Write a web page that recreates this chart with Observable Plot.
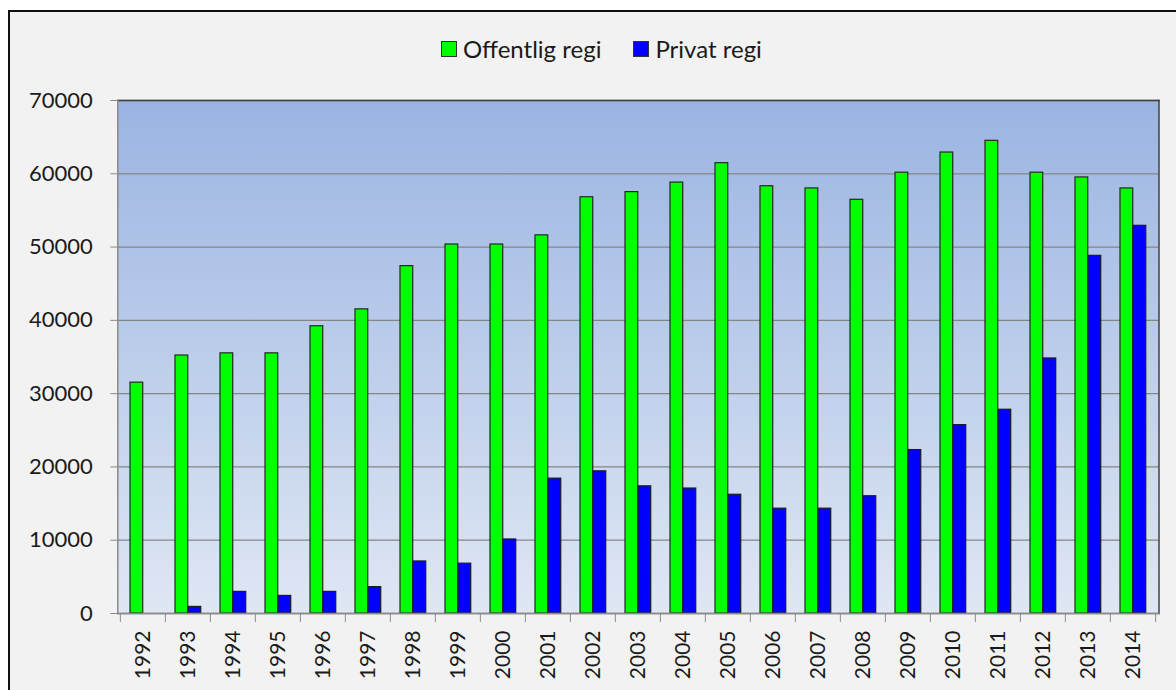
<!DOCTYPE html>
<html><head><meta charset="utf-8">
<script src="https://cdn.jsdelivr.net/npm/d3@7"></script>
<script src="https://cdn.jsdelivr.net/npm/@observablehq/plot@0.6"></script>
<style>
html,body{margin:0;padding:0;background:#fff;width:1176px;height:690px;overflow:hidden;font-family:Lato,sans-serif;}
#frame{position:absolute;left:7.5px;top:10px;width:1200px;height:720px;border:2.5px solid #111;background:#f2f2f2;box-sizing:border-box;}
#chart{position:absolute;left:0;top:0;}
#legend{position:absolute;top:34px;left:441px;display:flex;align-items:center;font-size:24px;color:#1a1a1a;white-space:nowrap;}
.sw{width:16px;height:16px;border:1px solid #333;box-sizing:border-box;margin-right:6px;}
.item{display:flex;align-items:center;margin-right:32px;}
</style></head>
<body>
<div id="frame"></div>
<div id="chart"></div>
<div id="legend"></div>
<script>
const years = ["1992","1993","1994","1995","1996","1997","1998","1999","2000","2001","2002","2003","2004","2005","2006","2007","2008","2009","2010","2011","2012","2013","2014"];
const offentlig = [31500,35200,35500,35500,39200,41500,47400,50350,50350,51600,56800,57500,58800,61450,58300,58000,56450,60150,62900,64500,60150,59500,58000];
const privat    = [0,900,2950,2400,2950,3600,7100,6800,10100,18400,19400,17350,17050,16200,14300,14300,16000,22300,25700,27800,34800,48800,52900];
const seriesNames = ["Offentlig regi","Privat regi"];
const seriesColors = ["#00ff00","#0000ff"];
const yTicks = [0,10000,20000,30000,40000,50000,60000,70000];

const offData = years.map((y,i)=>({year:y, series:seriesNames[0], value:offentlig[i]}));
const privData = years.map((y,i)=>({year:y, series:seriesNames[1], value:privat[i]}));

const W = 1176, H = 690, mL = 117.3, mR = 17.5;
const bw = (W - mL - mR) / years.length;

const plot = Plot.plot({
  width: W, height: H,
  marginLeft: mL, marginRight: mR, marginTop: 100, marginBottom: 77,
  style: {background: "transparent", fontFamily: "Lato, sans-serif", color: "#1a1a1a", overflow: "visible"},
  x: {domain: years, padding: 0, label: null},
  y: {domain: [0, 70000], label: null},
  marks: [
    Plot.frame({fill: "url(#bgGrad)", stroke: null}),
    Plot.gridY(yTicks, {stroke: "#858585", strokeOpacity: 1, strokeWidth: 1.3}),
    Plot.axisY(yTicks, {tickSize: 7, tickPadding: 18, fontSize: 22, stroke: "#8a8a8a", tickFormat: d => String(d), label: null}),
    Plot.axisX(years, {tickSize: 0, tickPadding: 17, tickRotate: -90, fontSize: 21, label: null}),
    Plot.axisX(years, {tickSize: 9, dx: -bw/2, stroke: "#8a8a8a", tickFormat: () => "", label: null}),
    Plot.axisX([years[years.length-1]], {tickSize: 9, dx: bw/2, stroke: "#8a8a8a", tickFormat: () => "", label: null}),
    Plot.barY(offData, {x: "year", y: "value", fill: seriesColors[0], stroke: "#1e2a1e", strokeWidth: 1.2, insetLeft: 10, insetRight: bw - 23}),
    Plot.barY(privData.filter(d => d.value > 0), {x: "year", y: "value", fill: seriesColors[1], stroke: "#1a1a2a", strokeWidth: 1.2, insetLeft: 23, insetRight: bw - 36}),
    Plot.frame({anchor: "top", stroke: "#404040", strokeWidth: 1.5}),
    Plot.frame({anchor: "right", stroke: "#404040", strokeWidth: 1.5}),
    Plot.frame({anchor: "left", stroke: "#8a8a8a", strokeWidth: 1.5}),
    Plot.frame({anchor: "bottom", stroke: "#8a8a8a", strokeWidth: 1.5})
  ]
});

d3.select(plot).insert("defs", ":first-child").html(
  '<linearGradient id="bgGrad" x1="0" y1="0" x2="0" y2="1">' +
  '<stop offset="0" stop-color="#9ab4e2"/><stop offset="1" stop-color="#dfe7f4"/></linearGradient>'
);
document.getElementById("chart").appendChild(plot);

const legend = d3.select("#legend");
seriesNames.forEach((name, i) => {
  const it = legend.append("div").attr("class", "item");
  it.append("div").attr("class", "sw").style("background", seriesColors[i]);
  it.append("span").text(name);
});
</script>
</body></html>
